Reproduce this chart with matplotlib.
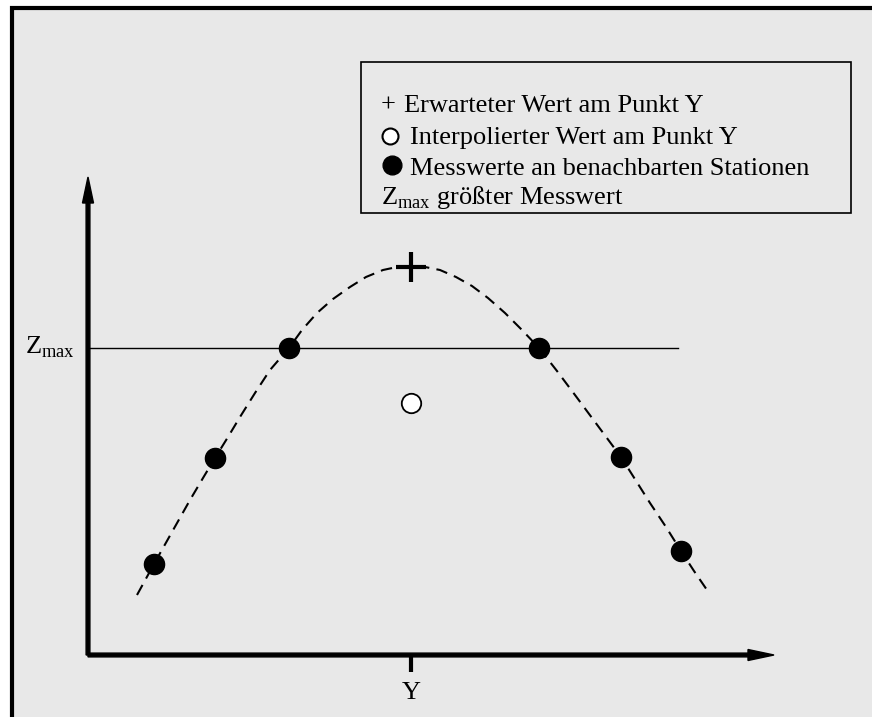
import matplotlib
matplotlib.use("Agg")
import matplotlib.pyplot as plt
from matplotlib.patches import Rectangle

# Werte aus der Skizze (x nach rechts, z nach oben, Ursprung = Achsenkreuz)
station_x = [6.6, 12.7, 20.1, 45.1, 53.3, 59.3]
station_z = [9.1, 19.7, 30.7, 30.7, 19.8, 10.4]

point_y = 32.3          # Lage des Punktes Y
expected_z = 38.8       # erwarteter Wert (+)
interpolated_z = 25.2   # interpolierter Wert (o)
z_max = 30.7

curve_x = [4.9, 6.6, 8.4, 10.2, 11.5, 12.7, 14.0, 15.2, 16.7, 18.2, 20.1, 21.4,
           22.9, 24.5, 26.2, 27.8, 29.5, 30.9, 32.3, 33.7, 35.2, 36.8, 38.4, 40.0,
           41.7, 43.4, 45.1, 46.9, 48.7, 51.0, 53.3, 56.2, 57.8, 59.3, 60.6, 61.9]
curve_z = [6.0, 9.1, 12.3, 15.5, 17.7, 19.7, 21.8, 23.8, 26.2, 28.5, 30.7, 32.5,
           34.2, 35.6, 36.8, 37.8, 38.5, 38.8, 38.9, 38.8, 38.5, 37.8, 36.9, 35.7,
           34.2, 32.5, 30.7, 28.4, 26.0, 22.9, 19.8, 15.2, 12.8, 10.4, 8.4, 6.5]

legend_lines = ["Erwarteter Wert am Punkt Y",
                "Interpolierter Wert am Punkt Y",
                "Messwerte an benachbarten Stationen",
                "größter Messwert"]

plt.rcParams['font.family'] = ['Liberation Serif', 'DejaVu Serif']
plt.rcParams['mathtext.fontset'] = 'custom'
plt.rcParams['mathtext.rm'] = 'Liberation Serif'
FS = 19

fig = plt.figure(figsize=(8.72, 7.17), dpi=100)
fig.patch.set_facecolor('white')
ax = fig.add_axes([0, 0, 1, 1])
ax.set_xlim(-8.8, 78.4)
ax.set_ylim(-6.2, 65.5)
ax.axis('off')

# Rahmen
ax.add_patch(Rectangle((12 / 872, -0.1), 1.2, 1 - 8 / 717 + 0.1,
                       transform=fig.transFigure, facecolor='#e8e8e8',
                       edgecolor='black', linewidth=3, zorder=0, clip_on=False))

# Achsen mit Pfeilen
ax.arrow(0, 0, 0, 47.8, width=0.38, head_width=1.1, head_length=2.6,
         length_includes_head=True, color='black', zorder=3)
ax.arrow(0, 0, 68.6, 0, width=0.38, head_width=1.1, head_length=2.6,
         length_includes_head=True, color='black', zorder=3)
ax.plot([point_y, point_y], [0, -1.7], color='black', lw=3, solid_capstyle='butt')
ax.text(point_y, -4.4, "Y", fontsize=FS, ha='center', va='baseline')

# Zmax-Linie
ax.plot([0, 59.0], [z_max, z_max], color='black', lw=1.0)
ax.text(-1.3, 30.2, r"$\mathrm{Z}_{\mathrm{max}}$", fontsize=FS, ha='right', va='baseline')

# Kurve und Punkte
ax.plot(curve_x, curve_z, color='black', lw=1.5, linestyle=(0, (5.5, 3.5)), zorder=2)
ax.plot(station_x, station_z, 'o', color='black', markersize=14.5, zorder=4)
ax.plot([point_y], [interpolated_z], 'o', markerfacecolor='white', markeredgecolor='black',
        markersize=14, markeredgewidth=1.3, zorder=4)
ax.plot([point_y], [expected_z], '+', color='black', markersize=22, markeredgewidth=3, zorder=4)

# Legende
ax.add_patch(Rectangle((27.3, 44.2), 49.0, 15.1, facecolor='#e8e8e8',
                       edgecolor='black', linewidth=1.2, zorder=3))
row_z = [54.3, 51.1, 48.0, 45.1]
ax.text(29.3, row_z[0], "+", fontsize=FS, ha='left', va='baseline', zorder=5)
ax.plot([30.2], [51.9], 'o', markerfacecolor='white', markeredgecolor='black',
        markersize=11.5, markeredgewidth=1.5, zorder=5)
ax.plot([30.4], [49.0], 'o', color='black', markersize=13.5, zorder=5)
ax.text(31.6, row_z[0], legend_lines[0], fontsize=FS, ha='left', va='baseline', zorder=5)
ax.text(32.2, row_z[1], legend_lines[1], fontsize=FS, ha='left', va='baseline', zorder=5)
ax.text(32.2, row_z[2], legend_lines[2], fontsize=FS, ha='left', va='baseline', zorder=5)
ax.text(29.3, row_z[3], r"$\mathrm{Z}_{\mathrm{max}}$ " + legend_lines[3], fontsize=FS,
        ha='left', va='baseline', zorder=5)

fig.savefig("out.png", dpi=100)
